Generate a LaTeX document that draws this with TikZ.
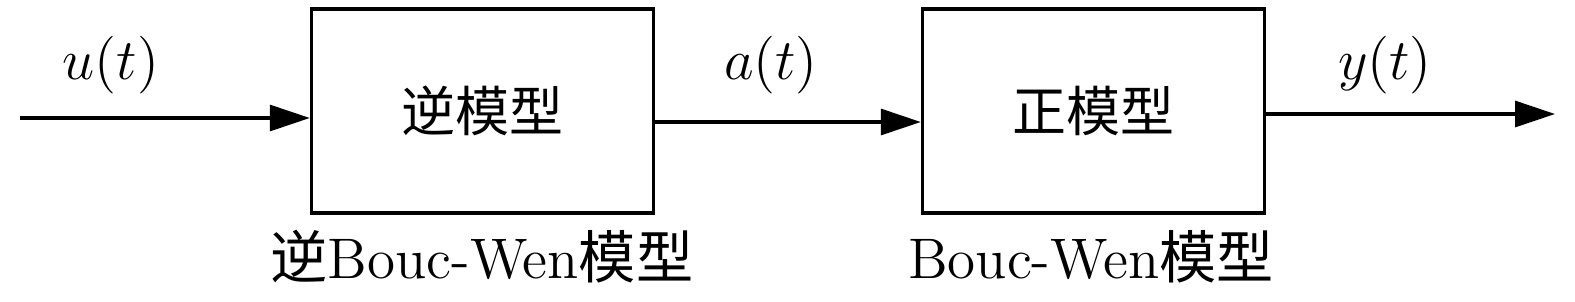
\documentclass[tikz,border=0pt]{standalone}
\usepackage{fontspec}
\newfontfamily\cjk{Noto Sans CJK SC}
\usetikzlibrary{arrows.meta}
\begin{document}
\begin{tikzpicture}[x=0.25pt,y=-0.25pt,
  blk/.style={draw,line width=0.85pt,minimum width=85.5pt,minimum height=51pt,inner sep=0pt,font=\fontsize{13.5}{15}\selectfont\cjk},
  sig/.style={line width=0.8pt,-{Triangle[length=10pt,width=6.5pt]}},
  lbl/.style={anchor=base,font=\fontsize{13.8}{16}\selectfont},
  captext/.style={anchor=base,font=\fontsize{14.3}{16}\selectfont}]
\useasboundingbox (0,0) rectangle (1575,301);
\node[blk] (b1) at (482.5,111) {逆模型};
\node[blk] (b2) at (1093.5,111) {正模型};
\coordinate (in) at (20,118);
\coordinate (mid) at (0,122);
\coordinate (out) at (1555,114);
\draw[sig] (in) -- (in -| b1.west);
\draw[sig] (b1.east |- mid) -- (b2.west |- mid);
\draw[sig] (b2.east |- out) -- (out);
\node[lbl] (lu) at (111,79) {$u(t)$};
\node[lbl] (la) at (771,79) {$a(t)$};
\node[lbl] (ly) at (1385,79) {$y(t)$};
\node[captext] (c1) at (482,278) {{\cjk 逆}Bouc-Wen{\cjk 模型}};
\node[captext] (c2) at (1091,278) {Bouc-Wen{\cjk 模型}};
\end{tikzpicture}
\end{document}
